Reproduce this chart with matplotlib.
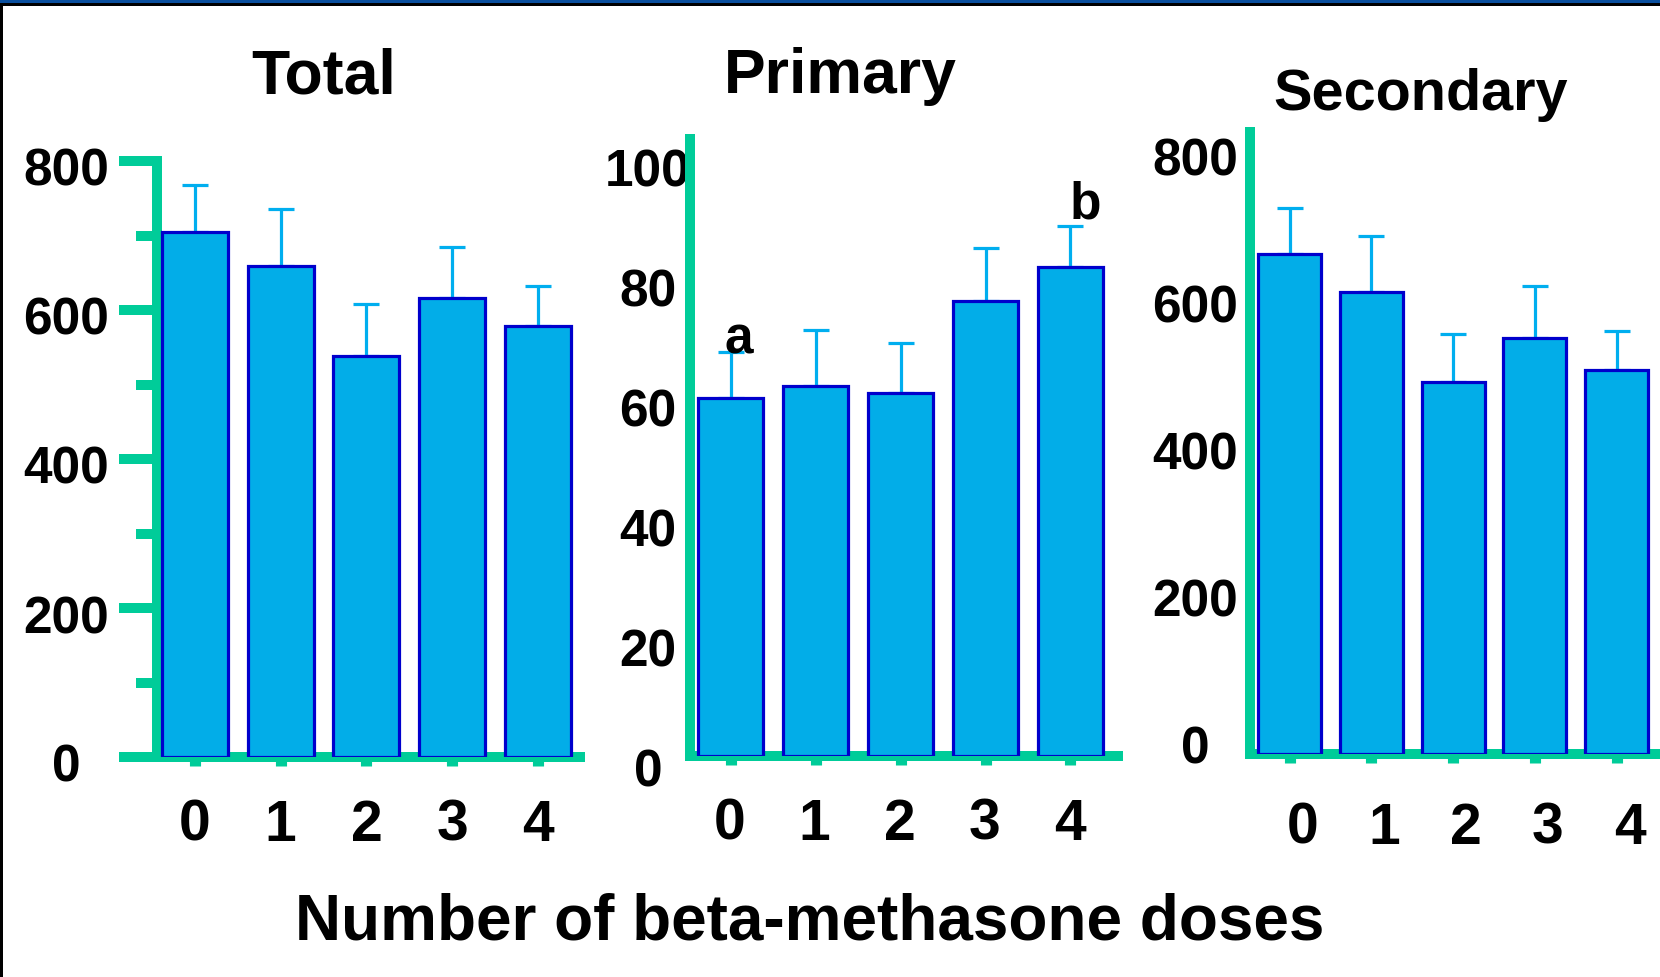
import matplotlib
matplotlib.use("Agg")
import matplotlib.pyplot as plt
import numpy as np
from matplotlib.patches import Rectangle
from matplotlib.ticker import MultipleLocator, FixedLocator
from matplotlib.transforms import ScaledTranslation

plt.rcParams['font.family'] = ['Liberation Sans', 'DejaVu Sans']
plt.rcParams['font.weight'] = 'bold'

doses = ['0', '1', '2', '3', '4']
titles = ['Total', 'Primary', 'Secondary']
xlabel = 'Number of beta-methasone doses'

total_mean = [705, 659, 538, 616, 578]
total_err = [63, 76, 70, 68, 54]
primary_mean = [59.6, 61.6, 60.4, 75.7, 81.4]
primary_err = [7.6, 9.3, 8.3, 8.8, 6.8]
secondary_mean = [680, 628, 506, 566, 522]
secondary_err = [63, 77, 65, 71, 53]
primary_letters = ['a', '', '', '', 'b']

total_ticks = [0, 200, 400, 600, 800]
primary_ticks = [0, 20, 40, 60, 80, 100]
secondary_ticks = [0, 200, 400, 600, 800]

W, H = 1660, 978
DPI = 100
GREEN = '#00CC99'
FILL = '#02ADE8'
EDGE = '#0000CC'
ERR = '#00AEEF'

fig = plt.figure(figsize=(W / DPI, H / DPI), dpi=DPI)
fig.patch.set_facecolor('white')

def px_rect(left, right, bottom, top):
    return [left / W, 1 - bottom / H, (right - left) / W, (bottom - top) / H]

panels = [
    dict(rect=px_rect(157, 580, 758, 162), xlim=(-0.443, 4.49), ylim=(0, 800),
         mean=total_mean, err=total_err, ticks=total_ticks, ticklen=27.4,
         minor=100, pad=38.2, dy=-5, xdx=0, xpad=23,
         title=titles[0], tx=324, ty=94, tsize=45),
    dict(rect=px_rect(690, 1118, 757, 140), xlim=(-0.48, 4.56), ylim=(0, 102.7),
         mean=primary_mean, err=primary_err, ticks=primary_ticks, ticklen=0,
         minor=None, pad=30.2, dy=-11, xdx=-1, xpad=23,
         title=titles[1], tx=840, ty=93, tsize=45),
    dict(rect=px_rect(1249.5, 1660, 755, 133), xlim=(-0.49, 4.53), ylim=(0, 846),
         mean=secondary_mean, err=secondary_err, ticks=secondary_ticks, ticklen=0,
         minor=None, pad=39.2, dy=10, xdx=13, xpad=27,
         title=titles[2], tx=1421, ty=110, tsize=41.5),
]

x = np.arange(len(doses))
axes = []
for p in panels:
    ax = fig.add_axes(p['rect'])
    axes.append(ax)
    ax.set_facecolor('none')
    ax.bar(x, p['mean'], width=0.77, color=FILL, edgecolor=EDGE, linewidth=2.3, zorder=3)
    ax.errorbar(x, p['mean'], yerr=[np.zeros(len(x)), p['err']], fmt='none',
                ecolor=ERR, elinewidth=2.3, capsize=9.5, capthick=2.3, zorder=2.8)
    ax.set_xlim(*p['xlim'])
    ax.set_ylim(*p['ylim'])
    for side in ['top', 'right']:
        ax.spines[side].set_visible(False)
    for side in ['left', 'bottom']:
        ax.spines[side].set_color(GREEN)
        ax.spines[side].set_linewidth(7.2)
    ax.set_xticks(x)
    ax.set_xticklabels(doses)
    ax.tick_params(axis='x', direction='out', length=6.5, width=8, color=GREEN,
                   labelsize=41, pad=p['xpad'])
    ax.yaxis.set_major_locator(FixedLocator(p['ticks']))
    ax.set_yticklabels([str(t) for t in p['ticks']])
    ax.tick_params(axis='y', which='major', direction='out', length=p['ticklen'],
                   width=7.2, color=GREEN, labelsize=37, pad=p['pad'])
    if p['minor']:
        ax.yaxis.set_minor_locator(MultipleLocator(p['minor']))
        ax.tick_params(axis='y', which='minor', direction='out', length=15,
                       width=7.2, color=GREEN)
    off = ScaledTranslation(0, p['dy'] / DPI, fig.dpi_scale_trans)
    for lbl in ax.get_yticklabels():
        lbl.set_ha('center')
        lbl.set_fontweight('bold')
        lbl.set_transform(lbl.get_transform() + off)
    xoff = ScaledTranslation(p['xdx'] / DPI, 0, fig.dpi_scale_trans)
    for lbl in ax.get_xticklabels():
        lbl.set_fontweight('bold')
        lbl.set_transform(lbl.get_transform() + xoff)
    fig.text(p['tx'] / W, 1 - p['ty'] / H, p['title'], ha='center', va='baseline',
             fontsize=p['tsize'], fontweight='bold')

# significance letters on Primary panel
axp = axes[1]
for i, letter in enumerate(primary_letters):
    if letter:
        top = primary_mean[i] + primary_err[i]
        dx = 0.1 if i == 0 else 0.18
        dyv = 0.0 if i == 0 else 1.5
        axp.text(i + dx, top + dyv, letter, ha='center', va='baseline',
                 fontsize=37, fontweight='bold', zorder=4)

fig.text(810 / W, 1 - 940 / H, xlabel, ha='center', va='baseline',
         fontsize=46, fontweight='bold')

# frame decoration
fig.add_artist(Rectangle((0, 1 - 4 / H), 1, 4 / H, transform=fig.transFigure,
                         facecolor='#0A4F9E', edgecolor='none'))
fig.add_artist(Rectangle((0, 1 - 6.5 / H), 1, 2.5 / H, transform=fig.transFigure,
                         facecolor='black', edgecolor='none'))
fig.add_artist(Rectangle((0, 0), 2.5 / W, 1 - 4 / H, transform=fig.transFigure,
                         facecolor='black', edgecolor='none'))

fig.savefig('out.png', dpi=DPI)
